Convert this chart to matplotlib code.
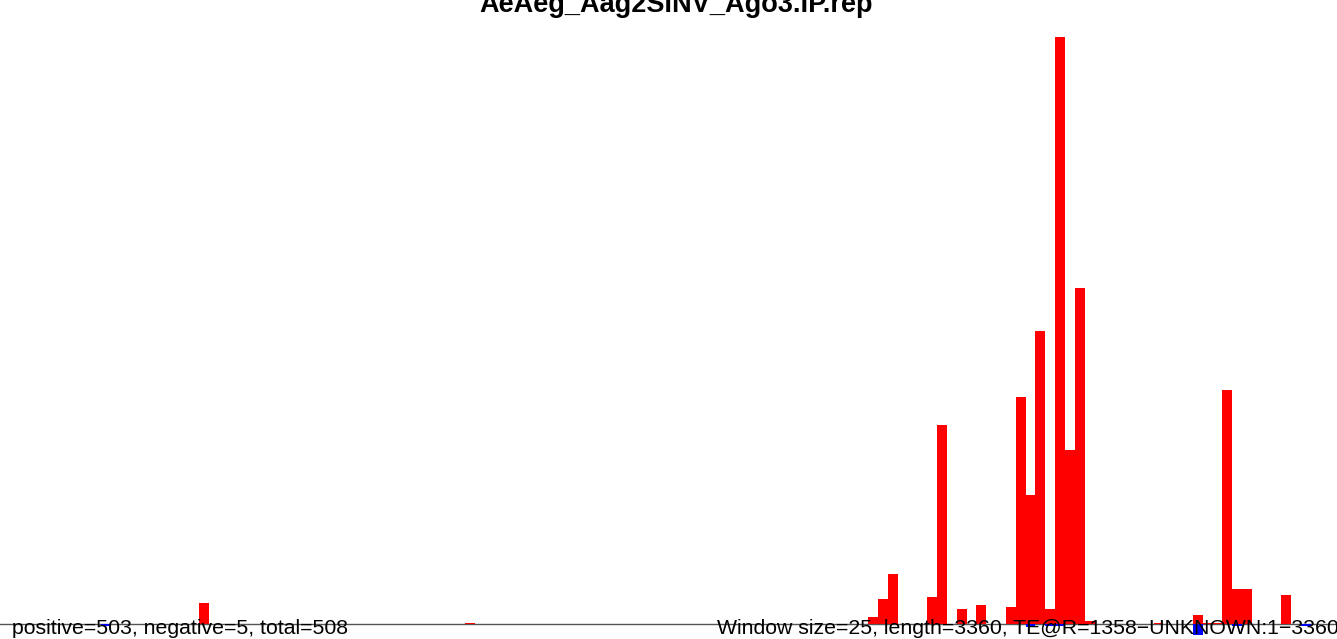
import numpy as np
import matplotlib
matplotlib.use("Agg")
import matplotlib.pyplot as plt

plt.rcParams["font.family"] = ["Liberation Sans", "DejaVu Sans"]

title = "AeAeg_Aag2SINV_Ago3.IP.rep"
window = 25
length = 3360

# window index -> signal (positive strand, red)
pos_bins = [20, 47, 88, 89, 90, 94, 95, 97, 99, 102, 103, 104, 105, 106, 107,
            108, 109, 110, 117, 121, 122, 123, 124, 125, 126, 130]
pos_vals = [4.2, 0.35, 1.4, 5.0, 10.0, 5.4, 39.8, 3.0, 3.8, 3.4, 45.4, 25.8, 58.6, 3.0, 117.4,
            34.8, 67.2, 0.6, 0.35, 1.8, 0.3, 0.3, 46.8, 7.0, 7.0, 5.8]

# window index -> signal (negative strand, blue)
neg_bins = [10, 104, 106, 107, 121, 125, 132]
neg_vals = [0.35, 0.6, 0.35, 0.35, 2.2, 0.35, 0.35]

n_pos, n_neg = 503, 5

fig = plt.figure(figsize=(13.37, 6.39), dpi=100)
ax = fig.add_axes([0, 0, 1, 1])

ax.axhline(0, color="#555555", lw=1, zorder=1)
ax.bar(np.array(pos_bins) * window, pos_vals, width=window, align="edge",
       color="#ff0000", linewidth=0, zorder=2)
ax.bar(np.array(neg_bins) * window, -np.array(neg_vals), width=window, align="edge",
       color="#0000ff", linewidth=0, zorder=2)

# 5 px per unit, baseline ~14.7 px above the bottom edge
ax.set_xlim(-5.6, 3391)
ax.set_ylim(-14.7 / 5, (639 - 14.7) / 5)
ax.axis("off")

fig.text(676 / 1337, 1 - 12 / 639, title, ha="center", va="baseline",
         fontsize=19.5, fontweight="bold")
fig.text(12 / 1337, 1 - 634 / 639, f"positive={n_pos}, negative={n_neg}, total={n_pos + n_neg}",
         ha="left", va="baseline", fontsize=15.3, zorder=5)
fig.text(717 / 1337, 1 - 634 / 639,
         f"Window size={window}, length={length}, TE@R=1358\u2212UNKNOWN:1\u2212{length}",
         ha="left", va="baseline", fontsize=15.3, zorder=5)

fig.savefig("out.png", dpi=100)
